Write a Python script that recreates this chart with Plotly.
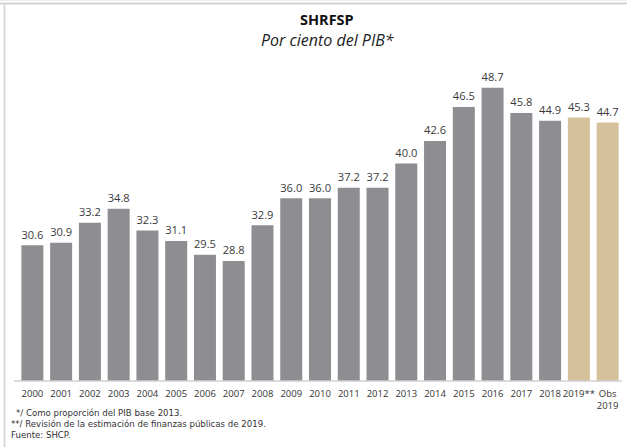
import plotly.graph_objects as go

categories = ["2000","2001","2002","2003","2004","2005","2006","2007","2008","2009",
              "2010","2011","2012","2013","2014","2015","2016","2017","2018","2019**","Obs<br>2019"]
values = [30.6,30.9,33.2,34.8,32.3,31.1,29.5,28.8,32.9,36.0,36.0,37.2,37.2,40.0,42.6,46.5,48.7,45.8,44.9,45.3,44.7]
labels = ["%.1f" % v for v in values]
gray = "#8e8d92"
tan = "#d5c19b"
colors = [gray]*19 + [tan]*2

W, H = 627, 447
L, R, T, B = 18, 5, 60, 66
pw = W - L - R
ph = H - T - B
def px(x): return (x - L) / pw
def py(y): return (H - B - y) / ph

font = "Open Sans"
fnote = "DejaVu Sans"

fig = go.Figure(go.Bar(
    x=categories, y=values, marker=dict(color=colors, line=dict(width=0)),
    text=labels, textposition="outside", cliponaxis=False,
    textfont=dict(size=12.5, color="#3a3a3a", family=font),
))

annots = [
    dict(text="<b>SHRFSP</b>", x=px(327), y=py(19), xref="paper", yref="paper",
         showarrow=False, font=dict(size=14.5, color="#111", family=font), xanchor="center", yanchor="middle"),
    dict(text="<i>Por ciento del PIB*</i>", x=px(327), y=py(40), xref="paper", yref="paper",
         showarrow=False, font=dict(size=16, color="#222", family=font), xanchor="center", yanchor="middle"),
    dict(text="*/ Como proporción del PIB base 2013.", x=px(14), y=py(413), xref="paper", yref="paper",
         showarrow=False, font=dict(size=8.6, color="#333", family=fnote), xanchor="left", yanchor="middle"),
    dict(text="**/ Revisión de la estimación de finanzas públicas de 2019.", x=px(9), y=py(424), xref="paper", yref="paper",
         showarrow=False, font=dict(size=8.6, color="#333", family=fnote), xanchor="left", yanchor="middle"),
    dict(text="Fuente: SHCP.", x=px(9), y=py(435), xref="paper", yref="paper",
         showarrow=False, font=dict(size=8.6, color="#333", family=fnote), xanchor="left", yanchor="middle"),
]

shapes = [
    dict(type="line", xref="paper", yref="paper", x0=px(0), x1=px(W), y0=py(3.5), y1=py(3.5),
         line=dict(color="#d4d4d4", width=2)),
    dict(type="line", xref="paper", yref="paper", x0=px(0), x1=px(W), y0=py(0.5), y1=py(0.5),
         line=dict(color="#ececec", width=1)),
    dict(type="line", xref="paper", yref="paper", x0=px(4.5), x1=px(4.5), y0=py(4), y1=py(H),
         line=dict(color="#d9d9d9", width=2)),
    dict(type="line", xref="paper", yref="paper", x0=px(14), x1=px(622), y0=0, y1=0,
         line=dict(color="#d0d0d0", width=1.5)),
]

fig.update_layout(
    width=W, height=H,
    margin=dict(l=L, r=R, t=T, b=B, autoexpand=False),
    paper_bgcolor="white", plot_bgcolor="white",
    bargap=0.235,
    showlegend=False,
    xaxis=dict(tickfont=dict(size=9.5, color="#333", family=font), showline=False,
               ticks="", showgrid=False, fixedrange=True, tickangle=0, automargin=False,
               ticklabelstandoff=5),
    yaxis=dict(range=[15, 15 + ph/8.7], visible=False, showgrid=False, automargin=False),
    annotations=annots,
    shapes=shapes,
    font=dict(family=font),
)

fig.write_html("out.html", config={"displayModeBar": False},
               post_script="document.body.style.margin='0';document.body.style.overflow='hidden';")
